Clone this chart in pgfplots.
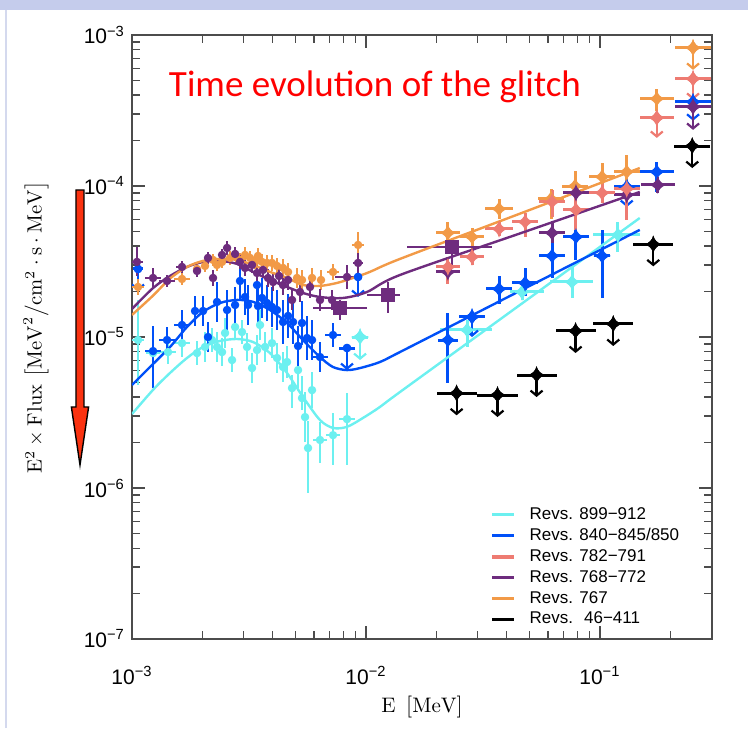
\documentclass[border=0pt]{standalone}
\usepackage{fontspec}
\setsansfont{Liberation Sans}
\newfontfamily\titlefont{Carlito}
\usepackage{pgfplots}
\pgfplotsset{compat=1.18}
\usepackage{pgfplotstable}
\usetikzlibrary{arrows.meta}

\definecolor{cyanC}{HTML}{6CF0F0}
\definecolor{blueC}{HTML}{0050F8}
\definecolor{salmonC}{HTML}{EE7B72}
\definecolor{purpleC}{HTML}{6E2C7E}
\definecolor{orangeC}{HTML}{F29A47}
\definecolor{topband}{HTML}{C5CCEC}
\definecolor{frameline}{HTML}{D4D9EE}
\definecolor{arrowred}{HTML}{FA3210}

% four-pointed star
\pgfdeclareplotmark{star4}{%
  \pgfpathmoveto{\pgfqpoint{0pt}{\pgfplotmarksize}}%
  \pgfpathquadraticcurveto{\pgfqpoint{0.2\pgfplotmarksize}{0.2\pgfplotmarksize}}{\pgfqpoint{\pgfplotmarksize}{0pt}}%
  \pgfpathquadraticcurveto{\pgfqpoint{0.2\pgfplotmarksize}{-0.2\pgfplotmarksize}}{\pgfqpoint{0pt}{-\pgfplotmarksize}}%
  \pgfpathquadraticcurveto{\pgfqpoint{-0.2\pgfplotmarksize}{-0.2\pgfplotmarksize}}{\pgfqpoint{-\pgfplotmarksize}{0pt}}%
  \pgfpathquadraticcurveto{\pgfqpoint{-0.2\pgfplotmarksize}{0.2\pgfplotmarksize}}{\pgfqpoint{0pt}{\pgfplotmarksize}}%
  \pgfpathclose\pgfusepathqfill}

\pgfplotsset{
  errpt/.style={forget plot, only marks, color=#1, mark options={fill=#1, draw=#1},
    error bars/x dir=both, error bars/x explicit relative,
    error bars/y dir=both, error bars/y explicit relative,
    error bars/error mark=none,
    error bars/error bar style={line width=1.35pt, color=#1}},
  ldot/.style={errpt=#1, mark=*, mark size=1.9pt},
  hstar/.style={errpt=#1, mark=star4, mark size=4.4pt,
    error bars/error bar style={line width=1.5pt, color=#1}},
  ulx/.style={forget plot, only marks, color=#1, mark=star4, mark size=4.4pt, mark options={fill=#1, draw=#1},
    error bars/x dir=both, error bars/x explicit relative, error bars/error mark=none,
    error bars/error bar style={line width=1.5pt, color=#1}},
  uly/.style={forget plot, only marks, color=#1, mark=star4, mark size=4.4pt, mark options={fill=#1, draw=#1},
    error bars/y dir=minus, error bars/y explicit relative, error bars/error mark=none,
    error bars/error bar style={line width=1.1pt, color=#1, -{Straight Barb[length=2.5pt,width=6pt]}}},
  model/.style={forget plot, no marks, smooth, line width=1.2pt, color=#1},
  table/tabopts/.style={x=x, y=y, x error plus=xp, x error minus=xm, y error plus=yp, y error minus=ym},
  table/ulxopts/.style={x=x, y=y, x error plus=xp, x error minus=xm},
  table/ulyopts/.style={x=x, y=y, y error minus=a},
}

% columns: x y, relative errors xp xm yp ym
\pgfplotstableread{
x y xp xm yp ym
1.061e-3 9.55e-6 0.061 0.057 0.841 0.496
1.230e-3 7.83e-6 0.071 0.067 0.399 0.317
1.426e-3 7.95e-6 0.082 0.076 0.201 0.167
1.636e-3 9.11e-6 0.082 0.076 0.238 0.192
1.897e-3 7.83e-6 0 0 0.201 0.167
2.052e-3 8.59e-6 0 0 0.257 0.204
2.198e-3 9.55e-6 0 0 0.201 0.167
2.309e-3 8.59e-6 0 0 0.257 0.204
2.426e-3 7.95e-6 0 0 0.238 0.192
2.499e-3 1.063e-5 0 0 0.257 0.204
2.677e-3 7.04e-6 0 0 0.201 0.167
2.758e-3 1.165e-5 0 0 0.201 0.167
2.953e-3 1.079e-5 0 0 0.201 0.167
3.103e-3 8.59e-6 0 0 0.238 0.192
3.259e-3 6.23e-6 0 0 0.257 0.204
3.423e-3 8.20e-6 0 0 0.257 0.204
3.526e-3 1.201e-5 0 0 0.257 0.204
3.705e-3 8.59e-6 0 0 0.257 0.204
3.968e-3 9.11e-6 0 0 0.257 0.204
4.168e-3 7.26e-6 0 0 0.257 0.204
4.421e-3 6.33e-6 0 0 0.257 0.204
4.599e-3 6.83e-6 0 0 0.277 0.217
4.831e-3 4.59e-6 0 0 0.219 0.263
5.125e-3 6.04e-6 0 0 0.316 0.240
5.330e-3 3.94e-6 0 0 0.399 0.167
5.490e-3 2.95e-6 0 0 0.464 0.317
5.655e-3 1.84e-6 0 0 0.510 0.496
5.882e-3 4.45e-6 0 0 0.316 0.240
6.362e-3 2.08e-6 0.071 0.067 0.316 0.296
7.232e-3 2.24e-6 0.071 0.067 0.399 0.367
8.298e-3 2.86e-6 0.082 0.076 0.486 0.504
}\cyanlow
\pgfplotstableread{
x y xp xm yp ym
2.705e-2 1.113e-5 0.279 0.233 0.165 0.229
4.645e-2 1.987e-5 0.242 0.111 0.130 0.115
7.597e-2 2.314e-5 0.229 0.195 0.257 0.217
0.1193 4.742e-5 0.242 0.218 0.219 0.229
}\cyanhigh
\pgfplotstableread{
x y xp xm a
9.437e-3 1.0e-5 0.082 0.076 0.296
}\cyanul

\pgfplotstableread{
x y xp xm yp ym
1.230e-3 8.07e-6 0.082 0.076 0.464 0.431
1.412e-3 9.55e-6 0.082 0.076 0.219 0.180
1.636e-3 1.201e-5 0.082 0.076 0.257 0.204
1.860e-3 1.487e-5 0 0 0.257 0.204
2.012e-3 1.487e-5 0 0 0.257 0.204
2.113e-3 1.0e-5 0 0 0.257 0.204
2.309e-3 1.706e-5 0 0 0.357 0.263
2.549e-3 1.510e-5 0 0 0.357 0.263
2.758e-3 1.630e-5 0 0 0.316 0.240
2.895e-3 2.350e-5 0 0 0.357 0.263
3.042e-3 1.841e-5 0 0 0.316 0.240
3.134e-3 1.630e-5 0 0 0.357 0.263
3.423e-3 2.210e-5 0 0 0.357 0.263
3.457e-3 1.605e-5 0 0 0.316 0.240
3.596e-3 1.813e-5 0 0 0.357 0.263
3.777e-3 1.680e-5 0 0 0.316 0.240
3.968e-3 1.581e-5 0 0 0.357 0.263
4.168e-3 1.510e-5 0 0 0.357 0.263
4.421e-3 1.257e-5 0 0 0.399 0.285
4.645e-3 1.378e-5 0 0 0.399 0.285
4.879e-3 1.257e-5 0 0 0.399 0.285
5.125e-3 8.72e-6 0 0 0.357 0.263
5.330e-3 1.238e-5 0 0 0.399 0.285
5.600e-3 9.85e-6 0 0 0.399 0.285
5.882e-3 9.55e-6 0 0 0.357 0.263
6.362e-3 7.37e-6 0.082 0.076 0.257 0.204
7.232e-3 1.031e-5 0.082 0.076 0.201 0.167
}\bluelow
\pgfplotstableread{
x y xp xm yp ym
2.240e-2 9.55e-6 0.103 0.094 0.510 0.481
3.706e-2 2.080e-5 0.136 0.120 0.219 0.204
4.787e-2 2.279e-5 0.136 0.120 0.257 0.180
6.240e-2 3.442e-5 0.136 0.120 0.442 0.285
7.90e-2 4.599e-5 0.136 0.120 0.464 0.296
0.1021 3.442e-5 0.082 0.076 0.486 0.473
0.1750 1.240e-4 0.182 0.154 0.165 0.263
}\bluehigh
\pgfplotstableread{
x y xp xm a
1.061e-3 2.822e-5 0.050 0.048 0.285
8.298e-3 8.455e-6 0.082 0.076 0.285
9.253e-3 2.498e-5 0 0 0.263
}\bluullow
\pgfplotstableread{
x y xp xm a
2.840e-2 1.357e-5 0.136 0.120 0.263
0.1302 9.85e-5 0.136 0.120 0.263
0.2500 3.608e-4 0.194 0.162 0.250
}\bluulhigh

\pgfplotstableread{
x y xp xm yp ym
1.061e-3 2.145e-5 0.061 0.057 0.130 0.115
1.636e-3 2.423e-5 0.082 0.076 0.096 0.087
1.897e-3 2.822e-5 0.040 0.039 0.096 0.087
2.052e-3 2.955e-5 0.040 0.039 0.096 0.087
2.220e-3 3.239e-5 0.040 0.039 0.096 0.087
2.309e-3 3.000e-5 0.040 0.039 0.096 0.087
2.426e-3 3.142e-5 0.040 0.039 0.096 0.087
2.625e-3 3.339e-5 0.040 0.039 0.113 0.101
2.786e-3 3.390e-5 0.040 0.039 0.113 0.101
2.895e-3 3.239e-5 0.040 0.039 0.113 0.101
3.042e-3 3.495e-5 0.040 0.039 0.130 0.115
3.195e-3 3.339e-5 0.040 0.039 0.113 0.101
3.357e-3 3.142e-5 0.040 0.039 0.113 0.101
3.457e-3 3.442e-5 0.040 0.039 0.130 0.115
3.596e-3 3.142e-5 0.040 0.039 0.130 0.115
3.777e-3 3.094e-5 0.040 0.039 0.130 0.115
3.968e-3 3.094e-5 0.040 0.039 0.130 0.115
4.168e-3 2.955e-5 0.040 0.039 0.130 0.115
4.421e-3 2.866e-5 0.040 0.039 0.147 0.128
4.645e-3 2.696e-5 0.040 0.039 0.147 0.128
5.074e-3 2.460e-5 0.040 0.039 0.165 0.141
5.330e-3 2.386e-5 0.040 0.039 0.165 0.141
5.882e-3 2.460e-5 0.040 0.039 0.165 0.141
6.426e-3 2.386e-5 0.040 0.039 0.165 0.141
7.232e-3 2.696e-5 0.061 0.057 0.130 0.115
9.253e-3 4.070e-5 0.061 0.057 0.219 0.167
}\orangelow
\pgfplotstableread{
x y xp xm yp ym
2.240e-2 4.888e-5 0.125 0.111 0.183 0.155
2.840e-2 4.599e-5 0.125 0.111 0.147 0.167
3.706e-2 7.05e-5 0.148 0.129 0.165 0.141
6.178e-2 8.22e-5 0.136 0.120 0.165 0.263
7.829e-2 1.0e-4 0.136 0.120 0.257 0.204
0.1021 1.149e-4 0.136 0.120 0.238 0.240
0.1302 1.240e-4 0.136 0.120 0.296 0.204
0.1750 3.777e-4 0.182 0.154 0.165 0.167
}\orangehigh
\pgfplotstableread{
x y xp xm a
0.2500 8.22e-4 0.194 0.162 0.285
}\orangeul

\pgfplotstableread{
x y xp xm yp ym
1.050e-3 3.142e-5 0.061 0.057 0.257 0.192
1.230e-3 2.460e-5 0.082 0.076 0.165 0.141
1.412e-3 2.350e-5 0.082 0.076 0.096 0.087
1.636e-3 2.910e-5 0.061 0.057 0.096 0.087
1.897e-3 2.738e-5 0 0 0.096 0.087
2.113e-3 3.339e-5 0 0 0.096 0.087
2.220e-3 2.460e-5 0 0 0.130 0.115
2.426e-3 3.495e-5 0 0 0.096 0.087
2.549e-3 3.888e-5 0 0 0.113 0.101
2.758e-3 3.549e-5 0 0 0.113 0.101
2.895e-3 3.142e-5 0 0 0.113 0.101
3.042e-3 2.866e-5 0 0 0.130 0.115
3.259e-3 3.000e-5 0 0 0.130 0.115
3.423e-3 2.655e-5 0 0 0.130 0.115
3.632e-3 2.780e-5 0 0 0.130 0.115
3.815e-3 2.460e-5 0 0 0.147 0.128
4.007e-3 2.314e-5 0 0 0.147 0.128
4.252e-3 2.536e-5 0 0 0.147 0.128
4.421e-3 2.210e-5 0 0 0.165 0.141
4.645e-3 2.386e-5 0 0 0.165 0.141
4.831e-3 1.759e-5 0 0 0.165 0.141
5.226e-3 1.987e-5 0 0 0.165 0.141
5.767e-3 2.145e-5 0 0 0.183 0.155
6.362e-3 1.759e-5 0 0 0.183 0.155
7.161e-3 1.759e-5 0 0 0.165 0.141
8.298e-3 2.498e-5 0.125 0.111 0.201 0.167
9.253e-3 3.094e-5 0.050 0.048 0.165 0.141
}\purplelow
\pgfplotstableread{
x y xp xm yp ym
7.746e-3 1.557e-5 0.304 0.233 0.130 0.167
1.243e-2 1.898e-5 0.125 0.187 0.219 0.240
2.332e-2 3.948e-5 0.482 0.358 0.113 0.263
}\purplesq
\pgfplotstableread{
x y xp xm yp ym
2.240e-2 2.696e-5 0.125 0.111 0.130 0.115
6.240e-2 4.888e-5 0.136 0.120 0.201 0.141
7.90e-2 9.00e-5 0.136 0.120 0.130 0.115
0.1302 8.73e-5 0.136 0.120 0.113 0.101
0.1767 1.016e-4 0.182 0.154 0.130 0.115
}\purplehigh
\pgfplotstableread{
x y xp xm a
0.2500 3.343e-4 0.194 0.162 0.296
}\purpleul

\pgfplotstableread{
x y xp xm yp ym
2.240e-2 2.910e-5 0.125 0.111 0.165 0.229
2.840e-2 3.390e-5 0.125 0.111 0.130 0.115
3.706e-2 5.196e-5 0.148 0.129 0.113 0.101
4.787e-2 5.78e-5 0.136 0.120 0.147 0.204
6.240e-2 7.85e-5 0.136 0.120 0.201 0.204
7.90e-2 6.94e-5 0.136 0.120 0.219 0.263
0.1021 9.00e-5 0.136 0.120 0.219 0.141
0.1302 9.56e-5 0.136 0.120 0.130 0.377
}\salmonhigh
\pgfplotstableread{
x y xp xm a
0.1750 2.826e-4 0.182 0.154 0.263
0.2500 5.124e-4 0.194 0.162 0.274
}\salmonul

\pgfplotstableread{
x y xp xm a
2.44e-2 4.24e-6 0.218 0.179 0.285
3.65e-2 4.13e-6 0.218 0.179 0.285
5.36e-2 5.60e-6 0.218 0.179 0.285
7.87e-2 1.096e-5 0.218 0.179 0.285
0.114 1.22e-5 0.218 0.179 0.285
0.169 4.11e-5 0.218 0.179 0.285
0.248 1.84e-4 0.194 0.162 0.285
}\blackul

\begin{document}
\begin{tikzpicture}
\useasboundingbox (-66pt,-44.5pt) rectangle (308pt,319.5pt);
\fill[topband] (-66pt,314.5pt) rectangle (308pt,319.5pt);
\draw[frameline, line width=0.6pt] (-63pt,-44.5pt) -- (-63pt,314.5pt);

\begin{axis}[
    at={(0pt,0pt)}, anchor=south west,
    scale only axis, width=290pt, height=302pt,
    xmode=log, ymode=log,
    xmin=1e-3, xmax=0.3013, ymin=1e-7, ymax=1e-3,
    xtick={1e-3,1e-2,1e-1},
    xticklabels={10\textsuperscript{−3},10\textsuperscript{−2},10\textsuperscript{−1}},
    ytick={1e-7,1e-6,1e-5,1e-4,1e-3},
    yticklabels={10\textsuperscript{−7},10\textsuperscript{−6},10\textsuperscript{−5},10\textsuperscript{−4},10\textsuperscript{−3}},
    minor xtick={2e-3,3e-3,4e-3,5e-3,6e-3,7e-3,8e-3,9e-3,2e-2,3e-2,4e-2,5e-2,6e-2,7e-2,8e-2,9e-2,0.2},
    minor ytick={2e-7,3e-7,4e-7,5e-7,6e-7,7e-7,8e-7,9e-7,2e-6,3e-6,4e-6,5e-6,6e-6,7e-6,8e-6,9e-6,
                 2e-5,3e-5,4e-5,5e-5,6e-5,7e-5,8e-5,9e-5,2e-4,3e-4,4e-4,5e-4,6e-4,7e-4,8e-4,9e-4},
    tick align=inside, major tick length=6.5pt, minor tick length=3.8pt,
    axis line style={black!70, line width=0.7pt},
    every tick/.style={black!70, line width=0.6pt},
    tick label style={font=\sffamily\fontsize{10.5}{12}\selectfont},
    xticklabel style={yshift=-10pt},
    legend style={at={(0.607,0.006)}, anchor=south west, draw=none, fill=none,
        font=\sffamily\fontsize{8.5}{9.6}\selectfont, row sep=-1pt,
        /tikz/every odd column/.append style={column sep=5pt}},
    legend cell align=left,
    legend image code/.code={\draw[#1, line width=1.6pt] (0pt,0pt) -- (11pt,0pt);},
]
% Revs. 899-912
\addplot[ldot=cyanC] table[tabopts] {\cyanlow};
\addplot[hstar=cyanC] table[tabopts] {\cyanhigh};
\addplot[ulx=cyanC] table[ulxopts] {\cyanul};
\addplot[uly=cyanC] table[ulyopts] {\cyanul};
% Revs. 840-845/850
\addplot[ldot=blueC] table[tabopts] {\bluelow};
\addplot[hstar=blueC] table[tabopts] {\bluehigh};
\addplot[ulx=blueC, mark=*, mark size=1.9pt] table[ulxopts] {\bluullow};
\addplot[uly=blueC, mark=*, mark size=1.9pt] table[ulyopts] {\bluullow};
\addplot[ulx=blueC] table[ulxopts] {\bluulhigh};
\addplot[uly=blueC] table[ulyopts] {\bluulhigh};
% Revs. 767
\addplot[ldot=orangeC] table[tabopts] {\orangelow};
\addplot[hstar=orangeC] table[tabopts] {\orangehigh};
\addplot[ulx=orangeC] table[ulxopts] {\orangeul};
\addplot[uly=orangeC] table[ulyopts] {\orangeul};
% Revs. 768-772
\addplot[ldot=purpleC] table[tabopts] {\purplelow};
\addplot[errpt=purpleC, mark=square*, mark size=3.4pt] table[tabopts] {\purplesq};
\addplot[hstar=purpleC] table[tabopts] {\purplehigh};
\addplot[ulx=purpleC] table[ulxopts] {\purpleul};
\addplot[uly=purpleC] table[ulyopts] {\purpleul};
% Revs. 782-791
\addplot[hstar=salmonC] table[tabopts] {\salmonhigh};
\addplot[ulx=salmonC] table[ulxopts] {\salmonul};
\addplot[uly=salmonC] table[ulyopts] {\salmonul};
% Revs. 46-411
\addplot[ulx=black] table[ulxopts] {\blackul};
\addplot[uly=black] table[ulyopts] {\blackul};

% model curves
\addplot[model=cyanC] coordinates {(1.0e-3,3.09e-6) (1.229e-3,4.46e-6) (1.454e-3,5.78e-6) (1.718e-3,7.26e-6)
  (2.011e-3,8.59e-6) (2.377e-3,9.41e-6) (2.809e-3,9.70e-6) (3.289e-3,9.27e-6) (3.888e-3,7.83e-6)
  (4.597e-3,5.78e-6) (5.38e-3,4.01e-6) (6.36e-3,2.82e-6) (7.23e-3,2.50e-6) (8.29e-3,2.54e-6)
  (9.71e-3,2.91e-6) (1.147e-2,3.44e-6) (1.397e-2,4.32e-6) (4.55e-2,1.63e-5) (0.148,6.14e-5)};
\addplot[model=blueC] coordinates {(1.0e-3,4.81e-6) (1.194e-3,6.33e-6) (1.454e-3,8.59e-6) (1.718e-3,1.165e-5)
  (2.011e-3,1.466e-5) (2.377e-3,1.68e-5) (2.809e-3,1.76e-5) (3.289e-3,1.71e-5) (3.888e-3,1.51e-5)
  (4.597e-3,1.24e-5) (5.38e-3,9.55e-6) (6.36e-3,7.37e-6) (7.23e-3,6.33e-6) (8.29e-3,6.04e-6)
  (9.44e-3,6.23e-6) (1.147e-2,6.83e-6) (1.397e-2,7.95e-6) (4.55e-2,2.02e-5) (0.148,5.12e-5)};
\addplot[model=purpleC] coordinates {(1.0e-3,1.533e-5) (1.23e-3,2.11e-5) (1.454e-3,2.536e-5) (1.718e-3,2.91e-5)
  (2.01e-3,3.14e-5) (2.38e-3,3.19e-5) (2.81e-3,3.05e-5) (3.29e-3,2.70e-5) (3.89e-3,2.386e-5)
  (4.60e-3,2.145e-5) (5.38e-3,1.957e-5) (6.36e-3,1.841e-5) (7.98e-3,1.813e-5) (1.01e-2,1.987e-5)
  (1.398e-2,2.575e-5) (4.55e-2,4.85e-5) (0.148,9.13e-5)};
\addplot[model=orangeC] coordinates {(1.0e-3,1.40e-5) (1.23e-3,1.88e-5) (1.454e-3,2.44e-5) (1.718e-3,2.91e-5)
  (2.01e-3,3.19e-5) (2.38e-3,3.29e-5) (2.81e-3,3.24e-5) (3.29e-3,3.00e-5) (3.89e-3,2.70e-5)
  (4.60e-3,2.46e-5) (5.38e-3,2.21e-5) (6.36e-3,2.18e-5) (7.52e-3,2.28e-5) (8.80e-3,2.46e-5)
  (1.04e-2,2.70e-5) (1.398e-2,3.29e-5) (4.55e-2,6.56e-5) (0.148,1.315e-4)};

% legend
\addlegendimage{cyanC}\addlegendentry{Revs. 899−912}
\addlegendimage{blueC}\addlegendentry{Revs. 840−845/850}
\addlegendimage{salmonC}\addlegendentry{Revs. 782−791}
\addlegendimage{purpleC}\addlegendentry{Revs. 768−772}
\addlegendimage{orangeC}\addlegendentry{Revs. 767}
\addlegendimage{black}\addlegendentry{Revs. \ 46−411}
\end{axis}

% labels, title and the red arrow
\node[font=\titlefont\fontsize{18.5}{22}\selectfont, text=red] at (121.5pt,276pt) {Time evolution of the glitch};
\node[font=\fontsize{10.5}{12}\selectfont] at (145pt,-34pt) {$\mathrm{E}\ \,\big[\mathrm{MeV}\big]$};
\node[rotate=90, font=\fontsize{10.3}{12}\selectfont] at (-48pt,155.8pt)
  {$\mathrm{E}^2\times\mathrm{Flux}\ \big[\mathrm{MeV}^2\big/\mathrm{cm}^2\cdot\mathrm{s}\cdot\mathrm{MeV}\big]$};
\filldraw[fill=arrowred, draw=black, line width=0.7pt]
  (-28pt,224.5pt) -- (-24pt,224.5pt) -- (-24pt,116pt) -- (-21.7pt,116pt) -- (-26pt,87pt)
  -- (-30.3pt,116pt) -- (-28pt,116pt) -- cycle;
\end{tikzpicture}
\end{document}
